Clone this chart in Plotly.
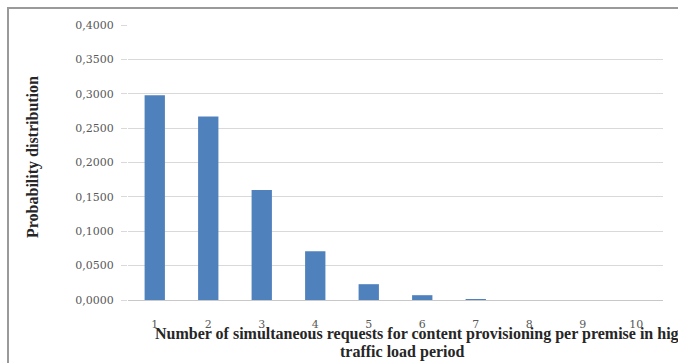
import plotly.graph_objects as go

# Number of simultaneous requests per premise and its probability
requests = ["1", "2", "3", "4", "5", "6", "7", "8", "9", "10"]
probability = [0.298, 0.267, 0.160, 0.071, 0.023, 0.007, 0.001, 0.0, 0.0, 0.0]
y_ticks = [0.0, 0.05, 0.10, 0.15, 0.20, 0.25, 0.30, 0.35, 0.40]
y_tick_text = ["0,0000", "0,0500", "0,1000", "0,1500", "0,2000",
               "0,2500", "0,3000", "0,3500", "0,4000"]

serif = "Liberation Serif, Times New Roman, serif"
wide_serif = "DejaVu Serif, serif"

fig = go.Figure(
    go.Bar(
        x=requests,
        y=probability,
        marker=dict(color="#4f81bd", line=dict(width=0)),
        width=0.38,
    )
)

fig.update_layout(
    width=678,
    height=363,
    margin=dict(l=128, r=15, t=25, b=63),
    paper_bgcolor="white",
    plot_bgcolor="white",
    showlegend=False,
    font=dict(family=wide_serif, color="#595959"),
)

fig.update_xaxes(
    showgrid=False,
    showline=True,
    linecolor="#c8c8c8",
    linewidth=1,
    ticks="",
    ticklabelstandoff=14,
    tickfont=dict(family=wide_serif, size=11, color="#595959"),
)

fig.update_yaxes(
    range=[0, 0.4],
    tickvals=y_ticks,
    ticktext=y_tick_text,
    showgrid=True,
    gridcolor="#d9d9d9",
    gridwidth=1,
    zeroline=False,
    ticks="outside",
    ticklen=6,
    tickcolor="#d9d9d9",
    ticklabelstandoff=5,
    tickfont=dict(family=wide_serif, size=11, color="#595959"),
)

# Axis titles
title_font = dict(family=serif, size=16, color="#262626", weight="bold")
fig.add_annotation(
    text="Number of simultaneous requests for content provisioning per premise in high",
    xref="paper", yref="paper",
    x=(153 - 128) / 535, y=-(334 - 300) / 275,
    xanchor="left", yanchor="middle",
    showarrow=False,
    font=title_font,
)
fig.add_annotation(
    text="traffic load period",
    xref="paper", yref="paper",
    x=(403 - 128) / 535, y=-(352 - 300) / 275,
    xanchor="center", yanchor="middle",
    showarrow=False,
    font=title_font,
)
fig.add_annotation(
    text="Probability distribution",
    xref="paper", yref="paper",
    x=(33 - 128) / 535, y=(300 - 157) / 275,
    xanchor="center", yanchor="middle",
    textangle=-90,
    showarrow=False,
    font=title_font,
)

# Outer chart frame (top and left edges)
fx = (8 - 128) / 535
fy = 1 + (25 - 8) / 275
fig.add_shape(
    type="path",
    xref="paper", yref="paper",
    path=f"M {fx} -0.3 L {fx} {fy} L 1.1 {fy}",
    line=dict(color="#9a9a9a", width=2),
)

fig.write_html("out.html")
